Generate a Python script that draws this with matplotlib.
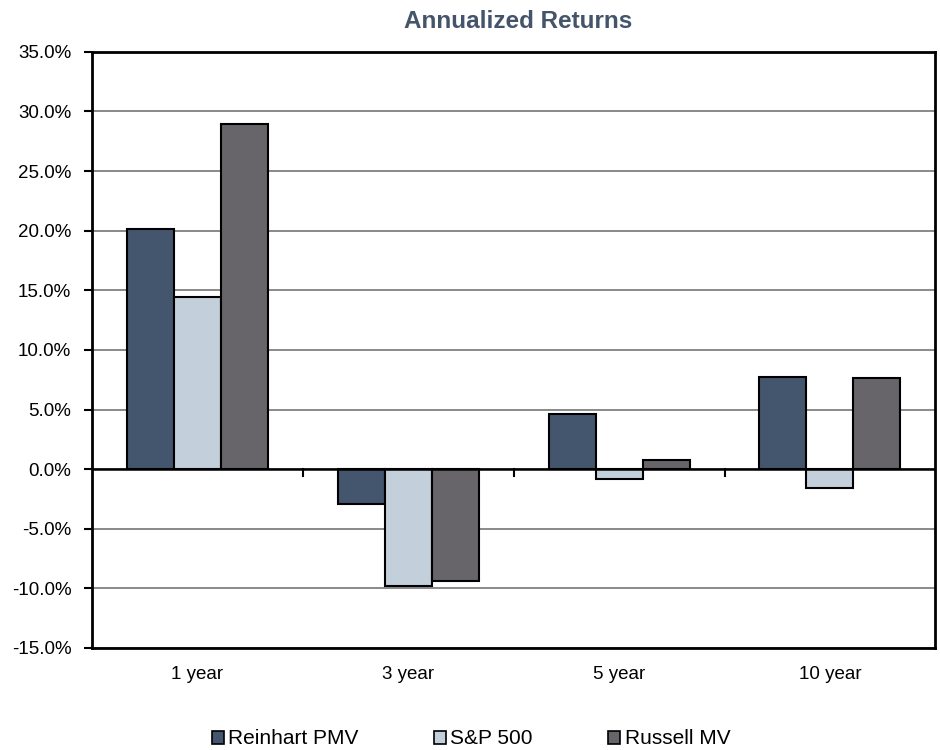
import numpy as np
import matplotlib
matplotlib.use("Agg")
import matplotlib.pyplot as plt
from matplotlib.patches import Patch

# data
periods = ["1 year", "3 year", "5 year", "10 year"]
reinhart = [20.1, -2.9, 4.6, 7.7]
sp500 = [14.4, -9.8, -0.8, -1.6]
russell = [28.9, -9.4, 0.75, 7.6]
series_names = ["Reinhart PMV", "S&P 500", "Russell MV"]
colors = ["#44556E", "#C3CFDB", "#67656A"]

plt.rcParams['font.family'] = ['Liberation Sans', 'DejaVu Sans']

fig = plt.figure(figsize=(9.4, 7.5), dpi=100)
ax = fig.add_axes([0.098, 0.136, 0.897, 0.795])

x = np.arange(len(periods))
w = 0.223
for i, (vals, c) in enumerate(zip([reinhart, sp500, russell], colors)):
    ax.bar(x + (i - 1) * w, vals, width=w, color=c, edgecolor="black",
           linewidth=1.5, zorder=3)

ax.set_ylim(-15, 35)
ax.set_xlim(-0.5, len(periods) - 0.5)
yt = np.arange(-15, 36, 5)
ax.set_yticks(yt)
ax.set_yticklabels([f"{v:.1f}%" for v in yt], fontsize=13.5)
ax.yaxis.grid(True, color="#808080", linewidth=1.3, zorder=0)
ax.tick_params(axis="y", direction="out", length=6, width=1.5, pad=9)

# category labels below the plot, tick marks on the zero line
ax.set_xticks([])
for xi, lab in zip(x, periods):
    ax.text(xi, -16.5, lab, ha="center", va="top", fontsize=13.5,
            clip_on=False)
ax.axhline(0, color="black", linewidth=1.8, zorder=4)
for b in np.arange(0.5, len(periods) - 1, 1.0):
    ax.plot([b, b], [0, -0.6], color="black", linewidth=1.5, zorder=4,
            clip_on=False)

for s in ax.spines.values():
    s.set_linewidth(2)
    s.set_color("black")

fig.text(0.551, 0.971, "Annualized Returns", ha="center", va="center",
         fontsize=17.5, fontweight="bold", color="#44546A")

handles = [Patch(facecolor=c, edgecolor="black", linewidth=1.2) for c in colors]
fig.legend(handles, series_names, loc="lower center", ncol=3,
           bbox_to_anchor=(0.501, -0.023), frameon=False, fontsize=15,
           handlelength=0.6, handleheight=0.6, handletextpad=0.2,
           columnspacing=3.6)

fig.savefig("out.png", dpi=100)
